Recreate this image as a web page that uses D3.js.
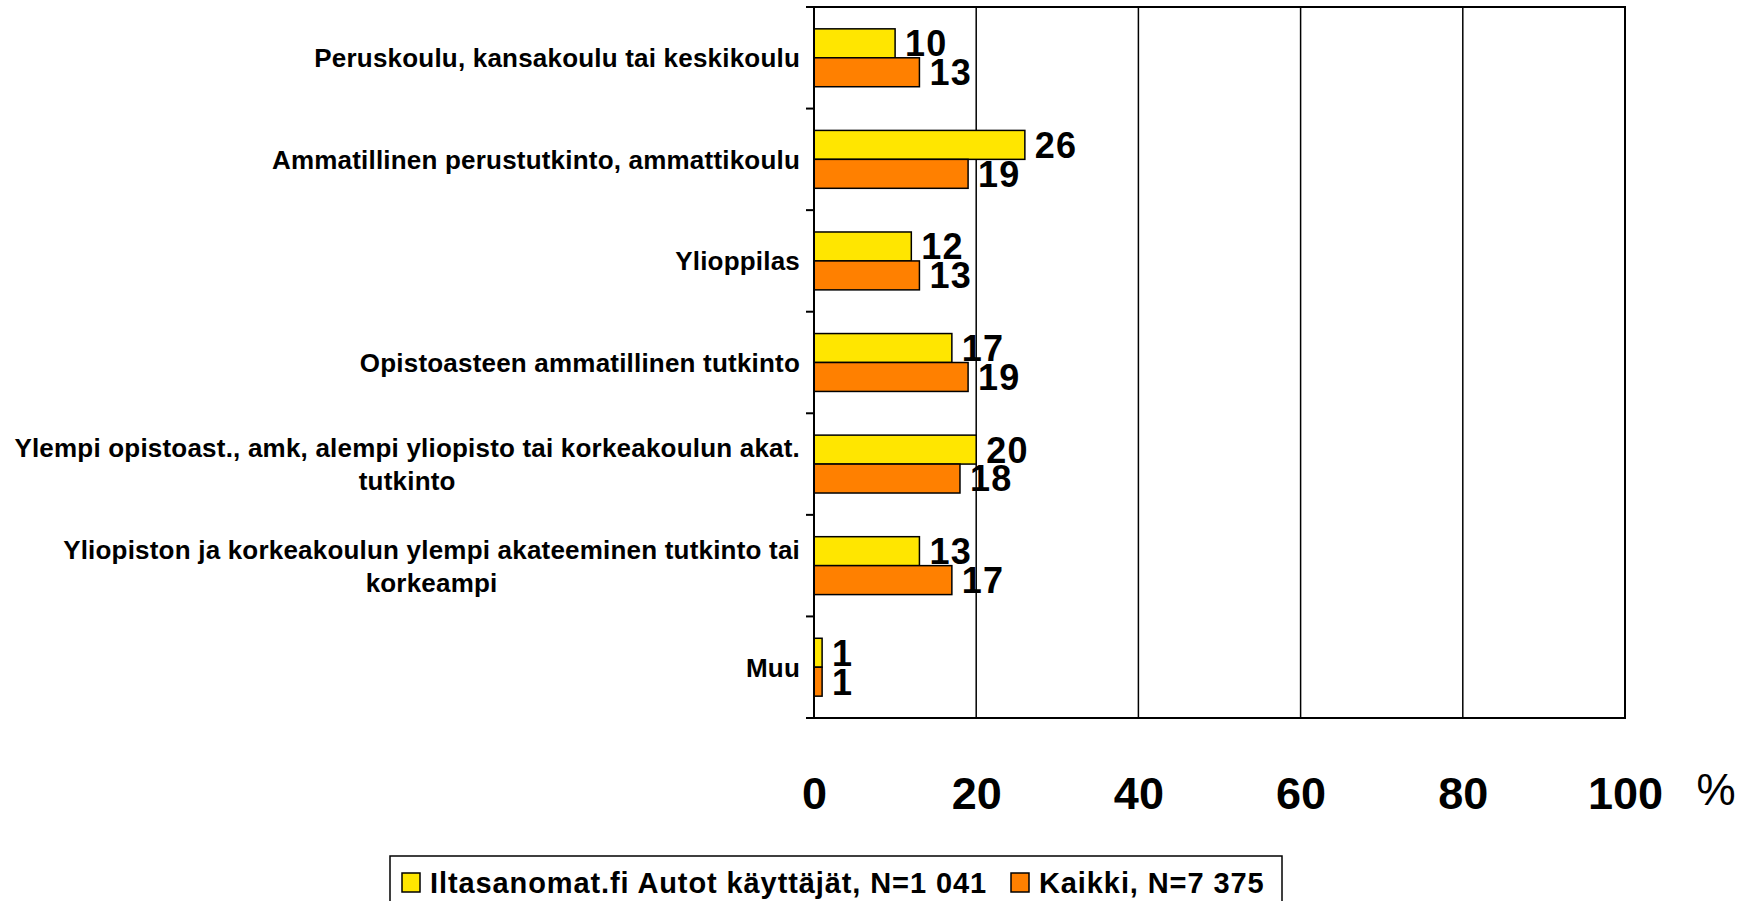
<!DOCTYPE html>
<html>
<head>
<meta charset="utf-8">
<script src="https://cdn.jsdelivr.net/npm/d3@7"></script>
<style>
  body { margin: 0; background: #fff; }
  text { font-family: Arial, "Liberation Sans", sans-serif; fill: #000; }
</style>
</head>
<body>
<div id="chart"></div>
<script>
// categories (each label split in lines as on the slide)
var categories = [
    ["Peruskoulu, kansakoulu tai keskikoulu"],
    ["Ammatillinen perustutkinto, ammattikoulu"],
    ["Ylioppilas"],
    ["Opistoasteen ammatillinen tutkinto"],
    ["Ylempi opistoast., amk, alempi yliopisto tai korkeakoulun akat.", "tutkinto"],
    ["Yliopiston ja korkeakoulun ylempi akateeminen tutkinto tai", "korkeampi"],
    ["Muu"]
];
var seriesNames = ["Iltasanomat.fi Autot käyttäjät, N=1 041", "Kaikki, N=7 375"];
var iltasanomat = [10, 26, 12, 17, 20, 13, 1];
var kaikki = [13, 19, 13, 19, 18, 17, 1];
var xTicks = [0, 20, 40, 60, 80, 100];
var colors = ["#FFE600", "#FF8000"];

var W = 1754, H = 901;
var margin = {top: 7, left: 814, right: 129, bottom: 183};
var width = W - margin.left - margin.right,
    height = H - margin.top - margin.bottom;

var svg = d3.select("#chart").append("svg")
    .attr("width", W).attr("height", H);

var g = svg.append("g")
    .attr("transform", "translate(" + margin.left + "," + margin.top + ")");

var keys = categories.map(function(d, i) { return "c" + i; });

var x = d3.scaleLinear().domain([0, 100]).range([0, width]);
var y0 = d3.scaleBand().domain(keys).range([0, height])
    .paddingInner(0.43).paddingOuter(0.215);
var y1 = d3.scaleBand().domain([0, 1]).range([0, y0.bandwidth()]);

// vertical grid lines
g.append("g")
    .selectAll("line")
    .data(xTicks.slice(1, -1))
    .enter().append("line")
    .attr("x1", function(d) { return x(d); })
    .attr("x2", function(d) { return x(d); })
    .attr("y1", 0).attr("y2", height)
    .attr("stroke", "#000").attr("stroke-width", 1.5);

// bars
var rows = categories.map(function(c, i) {
    return {key: keys[i], vals: [iltasanomat[i], kaikki[i]]};
});

var grp = g.selectAll(".cat")
    .data(rows)
    .enter().append("g")
    .attr("class", "cat")
    .attr("transform", function(d) { return "translate(0," + y0(d.key) + ")"; });

grp.selectAll("rect")
    .data(function(d) { return d.vals; })
    .enter().append("rect")
    .attr("x", x(0))
    .attr("y", function(d, i) { return y1(i); })
    .attr("width", function(d) { return x(d) - x(0); })
    .attr("height", y1.bandwidth())
    .attr("fill", function(d, i) { return colors[i]; })
    .attr("stroke", "#000").attr("stroke-width", 1.5);

grp.selectAll("text")
    .data(function(d) { return d.vals; })
    .enter().append("text")
    .attr("x", function(d) { return x(d) + 10; })
    .attr("y", function(d, i) { return y1(i) + y1.bandwidth() / 2; })
    .attr("dy", "0.36em")
    .style("font-size", "36px").style("font-weight", "bold")
    .style("letter-spacing", "1.2px")
    .text(function(d) { return d; });

// plot frame
g.append("rect")
    .attr("x", 0).attr("y", 0)
    .attr("width", width).attr("height", height)
    .attr("fill", "none").attr("stroke", "#000").attr("stroke-width", 2);

// left ticks on category boundaries
var bounds = d3.range(keys.length + 1).map(function(i) { return i * y0.step(); });
g.append("g")
    .selectAll("line")
    .data(bounds)
    .enter().append("line")
    .attr("x1", -8).attr("x2", 0)
    .attr("y1", function(d) { return d; })
    .attr("y2", function(d) { return d; })
    .attr("stroke", "#000").attr("stroke-width", 2);

// category labels: block right aligned, lines centred in the block
categories.forEach(function(lines, i) {
    var cy = y0(keys[i]) + y0.bandwidth() / 2;
    var lh = 33;
    var t = g.append("text")
        .style("font-size", "26px").style("font-weight", "bold")
        .style("letter-spacing", "0.2px")
        .attr("text-anchor", "middle");
    var spans = lines.map(function(l, j) {
        return t.append("tspan")
            .attr("y", cy + (j - (lines.length - 1) / 2) * lh)
            .attr("dy", "0.36em")
            .text(l);
    });
    var maxW = d3.max(spans, function(s) { return s.node().getComputedTextLength(); });
    spans.forEach(function(s) { s.attr("x", -14 - maxW / 2); });
});

// x axis labels
var xAxis = d3.axisBottom(x).tickValues(xTicks).tickSize(0).tickPadding(0);
var ax = g.append("g")
    .attr("transform", "translate(0," + (height + 91) + ")")
    .call(xAxis);
ax.select(".domain").remove();
ax.selectAll("text")
    .attr("dy", null)
    .style("font-family", "Arial, 'Liberation Sans', sans-serif")
    .style("font-size", "45px").style("font-weight", "bold")
    .attr("fill", "#000");

g.append("text")
    .attr("x", width + 91).attr("y", height + 87)
    .attr("text-anchor", "middle")
    .style("font-size", "44px")
    .text("%");

// legend
var lg = svg.append("g").attr("transform", "translate(390,856)");
lg.append("rect")
    .attr("x", 0).attr("y", 0).attr("width", 892).attr("height", 60)
    .attr("fill", "#fff").attr("stroke", "#000").attr("stroke-width", 1.5);
var lx = [12, 621];
seriesNames.forEach(function(name, i) {
    lg.append("rect")
        .attr("x", lx[i]).attr("y", 17).attr("width", 18).attr("height", 19)
        .attr("fill", colors[i]).attr("stroke", "#000").attr("stroke-width", 1.5);
    lg.append("text")
        .attr("x", lx[i] + 28).attr("y", 37)
        .style("font-size", "29px").style("font-weight", "bold")
        .style("letter-spacing", "0.9px")
        .text(name);
});
</script>
</body>
</html>
